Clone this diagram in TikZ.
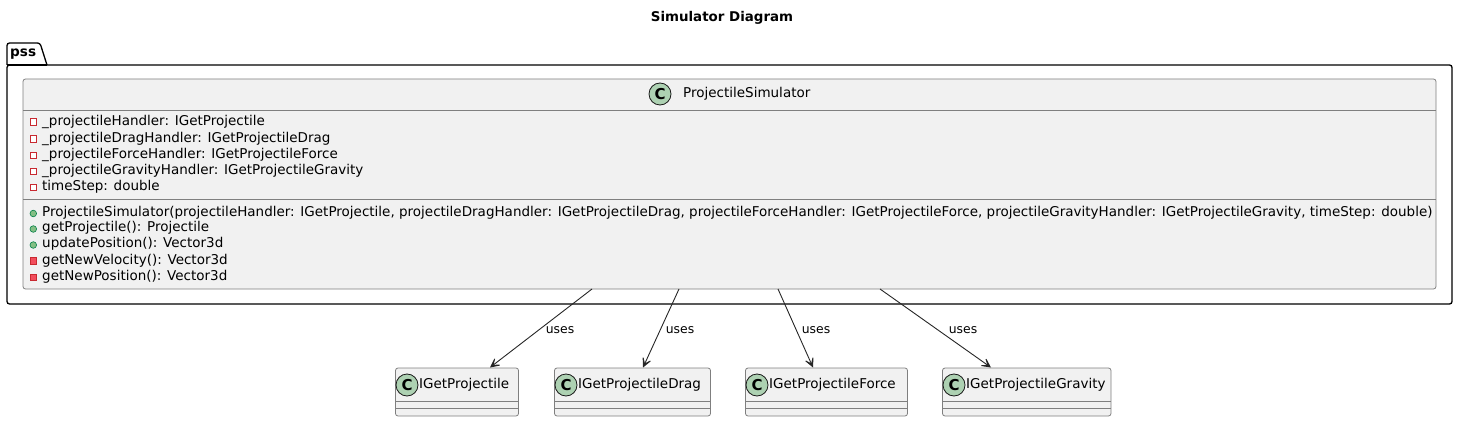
\documentclass[tikz,border=0pt]{standalone}
\usepackage{fontspec}
\setmainfont{DejaVu Sans}
\usetikzlibrary{arrows.meta}
\definecolor{cfill}{HTML}{F1F1F1}
\definecolor{cborder}{HTML}{7F7F7F}
\definecolor{circfill}{HTML}{ADD1B2}
\definecolor{privred}{HTML}{C82930}
\definecolor{privfill}{HTML}{F24D5C}
\definecolor{pubgreen}{HTML}{038048}
\definecolor{pubfill}{HTML}{84BE84}
\tikzset{
  txt/.style={font=\fontsize{13.5}{15}\selectfont, inner sep=0pt, anchor=west, text=black},
  classbox/.style={draw=cborder, fill=cfill, line width=0.8pt, rounded corners=2.5pt},
  sep/.style={draw=cborder, line width=0.8pt},
  cicon/.style={circle, draw=black!90, fill=circfill, line width=0.8pt, minimum size=22pt, inner sep=0pt, font=\fontsize{15}{15}\selectfont\bfseries},
  privattr/.style={draw=privred, fill=white, line width=0.8pt},
  privmeth/.style={draw=privred, fill=privfill, line width=0.8pt},
  pubmeth/.style={draw=pubgreen, fill=pubfill, line width=0.6pt},
  uses/.style={draw=black!85, line width=0.9pt, -{Stealth[length=13pt,width=13pt,inset=8.5pt]}},
  lbl/.style={font=\fontsize{12.4}{14}\selectfont, inner sep=0pt, text=black},
}
\begin{document}
\begin{tikzpicture}[x=1pt,y=-1pt]
\useasboundingbox (0,0) rectangle (1458,422);
% title
\node[font=\fontsize{13.4}{15}\selectfont\bfseries, inner sep=0pt] (title) at (722,18) {Simulator Diagram};
% package
\draw[line width=1.3pt, black, fill=white] (7,65) -- (7,46) [rounded corners=2.5pt] -- (7,43) -- (40,43) [sharp corners] -- (47,65);
\draw[line width=1.3pt, black, rounded corners=2.5pt] (7,65) rectangle (1452,304);
\draw[line width=1.3pt, black] (7,65) -- (47,65);
\node[font=\fontsize{13.6}{15}\selectfont\bfseries, inner sep=0pt, anchor=west] (pkg) at (10,54) {pss};
% main class
\draw[classbox] (23,79) rectangle (1436,289);
\draw[sep] (23,110) -- (1436,110);
\draw[sep] (23,199.5) -- (1436,199.5);
\node[cicon] (pscirc) at (660,94) {C};
\node[txt] (psname) at (683,94) {ProjectileSimulator};
% attributes
\foreach \y/\t in {121.5/{\_projectileHandler: IGetProjectile},
                   138.5/{\_projectileDragHandler: IGetProjectileDrag},
                   155/{\_projectileForceHandler: IGetProjectileForce},
                   171/{\_projectileGravityHandler: IGetProjectileGravity},
                   187/{timeStep: double}} {
  \draw[privattr] (30,\y-3) rectangle (36.5,\y+3.5);
  \node[txt] at (42,\y) {\t};
}
% methods
\node[txt] (m1) at (42,212.5) {ProjectileSimulator(projectileHandler: IGetProjectile, projectileDragHandler: IGetProjectileDrag, projectileForceHandler: IGetProjectileForce, projectileGravityHandler: IGetProjectileGravity, timeStep: double)};
\node[txt] (m2) at (42,228) {getProjectile(): Projectile};
\node[txt] (m3) at (42,244) {updatePosition(): Vector3d};
\node[txt] (m4) at (42,260.5) {getNewVelocity(): Vector3d};
\node[txt] (m5) at (42,277) {getNewPosition(): Vector3d};
\foreach \y in {213.5,229,245} { \fill[pubmeth] (33.3,\y) circle (3.3pt); }
\foreach \y in {261,277.5} { \draw[privmeth] (30,\y-3.3) rectangle (36.5,\y+3.3); }
% interface classes
\foreach \n/\xa/\xb/\t in {a/395.5/518.5/IGetProjectile, b/554.5/710.5/IGetProjectileDrag, c/745.5/907.5/IGetProjectileForce, d/942.5/1111/IGetProjectileGravity} {
  \draw[classbox] (\xa,368) rectangle (\xb,416);
  \draw[sep] (\xa,401.5) -- (\xb,401.5);
  \draw[sep] (\xa,408.5) -- (\xb,408.5);
  \node[cicon] (circ\n) at (\xa+11.5,385) {C};
  \node[txt] (\n) at (\xa+23.5,385) {\t};
}
% connectors
\coordinate (s1) at (592,289);
\coordinate (s2) at (679,289);
\coordinate (s3) at (778,289);
\coordinate (s4) at (880,289);
\coordinate (e1) at (490,367.5);
\coordinate (e2) at (643,367.5);
\coordinate (e3) at (813,367.5);
\coordinate (e4) at (991,367.5);
\draw[uses] (s1) -- (e1);
\draw[uses] (s2) -- (e2);
\draw[uses] (s3) -- (e3);
\draw[uses] (s4) -- (e4);
\node[lbl] (l1) at (560,330) {uses};
\node[lbl] (l2) at (680,330) {uses};
\node[lbl] (l3) at (816,330) {uses};
\node[lbl] (l4) at (963,330) {uses};
\end{tikzpicture}
\end{document}
